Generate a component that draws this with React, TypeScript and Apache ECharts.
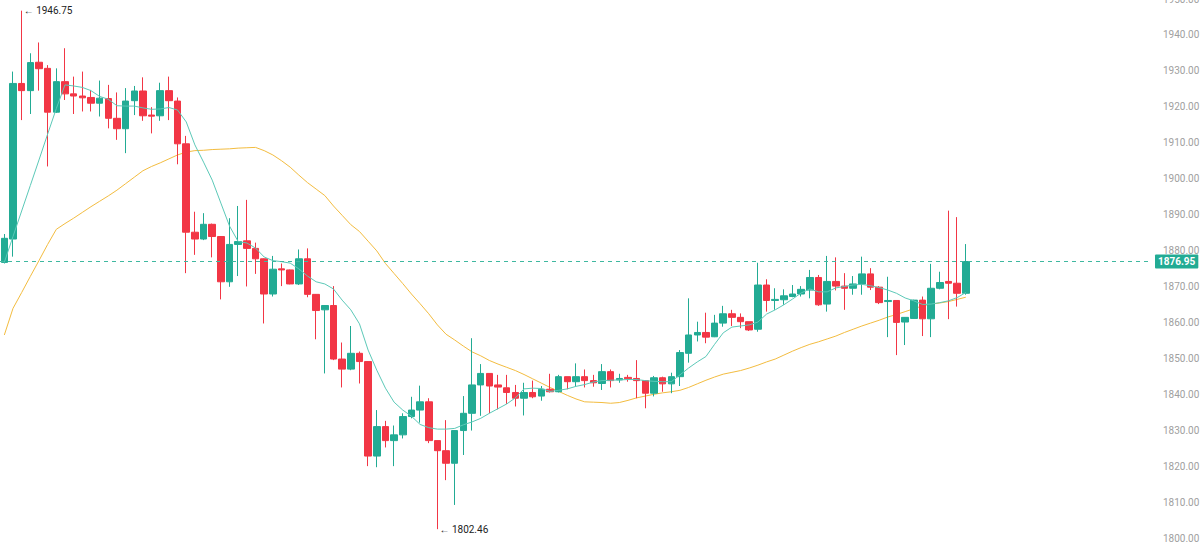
import React, { useEffect, useRef } from "react";
import * as echarts from "echarts";

// OHLC as [open, close, low, high]
const candles: number[][] = [
  [1876.7, 1883.4, 1876.4, 1884.6],
  [1883.2, 1926.5, 1878.3, 1929.8],
  [1926.5, 1924.5, 1916.3, 1946.75],
  [1924.5, 1932.3, 1918.0, 1934.9],
  [1932.4, 1930.6, 1924.5, 1937.9],
  [1930.7, 1918.5, 1903.4, 1931.6],
  [1918.5, 1927.0, 1918.3, 1930.7],
  [1927.0, 1923.6, 1921.9, 1936.3],
  [1923.6, 1923.0, 1918.0, 1928.4],
  [1923.0, 1922.5, 1918.7, 1929.8],
  [1922.6, 1921.0, 1918.7, 1924.7],
  [1921.0, 1922.4, 1917.3, 1927.3],
  [1922.3, 1916.8, 1914.0, 1926.1],
  [1916.8, 1913.9, 1910.8, 1924.0],
  [1913.9, 1921.6, 1907.1, 1925.2],
  [1921.7, 1924.4, 1917.7, 1925.8],
  [1924.4, 1917.5, 1916.1, 1928.2],
  [1917.7, 1917.4, 1912.6, 1919.9],
  [1917.5, 1924.5, 1916.1, 1926.7],
  [1924.5, 1921.7, 1916.3, 1928.4],
  [1921.6, 1909.7, 1904.0, 1922.6],
  [1909.7, 1885.1, 1873.7, 1911.9],
  [1885.1, 1883.2, 1878.8, 1890.8],
  [1883.2, 1887.3, 1882.9, 1890.4],
  [1887.3, 1883.9, 1878.1, 1887.5],
  [1883.9, 1871.3, 1866.4, 1884.0],
  [1871.3, 1881.7, 1869.9, 1889.0],
  [1881.7, 1882.5, 1872.9, 1892.4],
  [1882.7, 1880.6, 1870.0, 1894.1],
  [1880.6, 1877.7, 1873.5, 1882.2],
  [1877.7, 1867.9, 1859.7, 1877.8],
  [1867.9, 1874.8, 1867.2, 1878.5],
  [1874.9, 1874.6, 1870.1, 1876.4],
  [1874.6, 1870.7, 1870.6, 1874.7],
  [1870.7, 1877.7, 1870.4, 1880.3],
  [1877.7, 1867.8, 1867.0, 1880.6],
  [1867.8, 1863.3, 1855.3, 1867.9],
  [1863.5, 1864.7, 1845.8, 1864.8],
  [1864.7, 1849.8, 1849.5, 1870.1],
  [1849.8, 1847.0, 1841.9, 1854.4],
  [1847.0, 1851.4, 1846.7, 1859.0],
  [1851.4, 1849.1, 1843.0, 1851.9],
  [1849.1, 1822.8, 1820.0, 1849.2],
  [1822.8, 1831.0, 1819.7, 1835.6],
  [1831.0, 1827.1, 1825.2, 1832.6],
  [1827.1, 1828.7, 1820.0, 1831.3],
  [1828.7, 1833.8, 1827.7, 1834.7],
  [1833.8, 1835.6, 1833.3, 1839.3],
  [1835.6, 1837.9, 1832.1, 1842.4],
  [1837.9, 1827.1, 1826.4, 1838.9],
  [1827.1, 1824.3, 1802.46, 1827.1],
  [1824.3, 1820.8, 1816.1, 1832.8],
  [1820.8, 1829.9, 1809.2, 1830.0],
  [1829.9, 1834.7, 1823.1, 1839.5],
  [1834.7, 1842.6, 1829.9, 1855.6],
  [1842.6, 1845.8, 1834.0, 1848.4],
  [1845.8, 1842.3, 1834.7, 1845.8],
  [1842.6, 1842.0, 1835.8, 1845.4],
  [1841.8, 1840.5, 1837.3, 1845.4],
  [1840.5, 1838.9, 1836.6, 1842.6],
  [1838.9, 1840.5, 1834.1, 1843.2],
  [1840.5, 1839.3, 1838.9, 1843.8],
  [1839.5, 1841.4, 1838.2, 1842.3],
  [1841.4, 1840.7, 1840.5, 1845.7],
  [1840.7, 1844.9, 1840.5, 1845.4],
  [1844.9, 1843.5, 1841.4, 1844.9],
  [1843.5, 1844.9, 1842.1, 1848.6],
  [1844.9, 1843.8, 1841.9, 1846.9],
  [1843.8, 1843.2, 1842.1, 1845.4],
  [1843.0, 1846.3, 1841.2, 1848.4],
  [1846.3, 1843.8, 1841.9, 1846.9],
  [1844.0, 1844.4, 1843.2, 1845.7],
  [1844.7, 1844.3, 1843.5, 1845.4],
  [1844.4, 1843.8, 1838.9, 1849.5],
  [1843.8, 1840.3, 1836.1, 1843.8],
  [1840.3, 1844.6, 1839.4, 1845.1],
  [1844.6, 1842.9, 1840.7, 1844.9],
  [1842.9, 1844.9, 1840.3, 1846.0],
  [1844.9, 1851.6, 1842.3, 1852.3],
  [1851.4, 1856.5, 1848.8, 1866.7],
  [1856.5, 1857.2, 1854.7, 1860.2],
  [1857.2, 1855.9, 1854.2, 1862.7],
  [1856.0, 1859.8, 1855.9, 1862.1],
  [1859.8, 1862.4, 1858.8, 1864.6],
  [1862.4, 1861.4, 1859.0, 1863.5],
  [1861.4, 1860.2, 1858.4, 1862.5],
  [1860.2, 1857.9, 1857.6, 1860.2],
  [1858.1, 1870.4, 1857.4, 1876.6],
  [1870.4, 1866.1, 1863.0, 1872.0],
  [1866.1, 1866.4, 1863.5, 1869.5],
  [1866.3, 1867.4, 1864.9, 1869.2],
  [1867.2, 1867.9, 1867.0, 1870.4],
  [1867.9, 1869.2, 1867.2, 1870.1],
  [1869.0, 1872.5, 1866.7, 1874.6],
  [1872.5, 1864.9, 1864.6, 1873.2],
  [1865.1, 1871.4, 1863.0, 1878.5],
  [1871.4, 1870.1, 1868.9, 1878.1],
  [1870.1, 1869.5, 1863.5, 1873.7],
  [1869.5, 1870.7, 1867.7, 1872.9],
  [1870.7, 1873.5, 1867.7, 1878.3],
  [1873.5, 1869.8, 1869.0, 1875.1],
  [1869.8, 1865.5, 1865.1, 1870.1],
  [1865.8, 1866.1, 1855.9, 1872.7],
  [1866.1, 1860.0, 1850.9, 1866.1],
  [1860.1, 1861.4, 1853.7, 1861.5],
  [1861.1, 1866.2, 1861.0, 1866.3],
  [1866.2, 1861.0, 1856.2, 1867.2],
  [1861.0, 1869.5, 1855.9, 1876.3],
  [1869.5, 1871.1, 1869.2, 1874.1],
  [1871.4, 1870.9, 1860.9, 1891.1],
  [1870.9, 1868.1, 1864.4, 1889.3],
  [1868.1, 1876.95, 1867.7, 1881.8],
];

// Short moving average (teal)
const maFast: number[] = [
  1876.7, 1883.9, 1891.0, 1898.1, 1905.2, 1912.4, 1919.5, 1926.1, 1925.8, 1925.4,
  1924.5, 1922.9, 1922.1, 1920.3, 1920.2, 1920.2, 1919.7, 1919.3, 1919.4, 1919.8,
  1919.1, 1915.8, 1909.4, 1904.6, 1899.6, 1893.2, 1886.8, 1882.5, 1882.1, 1880.7,
  1878.2, 1877.2, 1876.9, 1876.5, 1874.9, 1872.9, 1871.3, 1870.7, 1869.3, 1866.2,
  1863.5, 1859.6, 1852.3, 1846.7, 1841.7, 1837.8, 1835.6, 1833.9, 1831.6, 1830.7,
  1830.3, 1830.3, 1830.5, 1831.5, 1832.3, 1833.3, 1834.7, 1836.0, 1837.3, 1839.0,
  1841.5, 1841.7, 1841.6, 1840.8, 1841.1, 1841.5, 1842.2, 1842.7, 1843.4, 1843.8,
  1843.9, 1844.0, 1844.1, 1844.1, 1843.8, 1843.6, 1843.5, 1843.5, 1845.4, 1847.3,
  1849.0, 1850.5, 1853.9, 1857.1, 1858.7, 1859.0, 1859.3, 1860.1, 1862.3, 1863.5,
  1864.9, 1866.5, 1868.2, 1869.3, 1868.5, 1868.5, 1869.6, 1870.0, 1870.4, 1870.6,
  1870.2, 1869.7, 1869.0, 1868.1, 1866.8, 1866.0, 1865.0, 1865.1, 1865.5, 1866.0,
  1866.9, 1868.3,
];

// Long moving average (orange)
const maSlow: number[] = [
  1856.5, 1863.9, 1868.3, 1872.8, 1877.2, 1881.7, 1885.9, 1887.5, 1889.0, 1890.6,
  1892.2, 1893.7, 1895.2, 1896.8, 1898.6, 1900.4, 1902.2, 1903.4, 1904.4, 1905.5,
  1906.6, 1907.4, 1907.8, 1907.9, 1908.1, 1908.2, 1908.3, 1908.5, 1908.6, 1908.7,
  1907.8, 1906.6, 1905.0, 1903.2, 1901.0, 1898.9, 1897.1, 1895.3, 1892.4, 1889.8,
  1887.2, 1885.3, 1882.6, 1879.9, 1876.4, 1873.6, 1870.8, 1867.9, 1865.2, 1862.4,
  1859.3, 1856.7, 1855.1, 1853.4, 1851.8, 1850.7, 1849.4, 1848.4, 1847.5, 1846.6,
  1845.5, 1844.3, 1843.1, 1841.9, 1840.8, 1839.7, 1838.7, 1837.9, 1837.8, 1837.7,
  1837.5, 1837.7, 1838.3, 1839.0, 1839.5, 1840.0, 1840.4, 1840.7, 1841.1, 1841.9,
  1842.9, 1843.9, 1844.8, 1845.6, 1846.1, 1846.6, 1847.3, 1848.1, 1849.0, 1849.8,
  1850.9, 1852.0, 1853.0, 1853.9, 1854.6, 1855.4, 1856.2, 1857.2, 1858.1, 1859.0,
  1859.8, 1860.6, 1861.5, 1862.2, 1863.0, 1863.8, 1864.6, 1865.1, 1865.4, 1865.8,
  1866.4, 1867.0,
];

const totalSlots = 133;
const categories: string[] = Array.from({ length: totalSlots }, (_, i) => String(i));

const yTicks: number[] = [1800, 1810, 1820, 1830, 1840, 1850, 1860, 1870, 1880, 1890, 1900, 1910, 1920, 1930, 1940, 1950];

const lastPrice = 1876.95;
const highMark = { index: 2, value: 1946.75 };
const lowMark = { index: 50, value: 1802.46 };

const UP = "#22ab94";
const DOWN = "#f23645";

export default function App() {
  const ref = useRef<HTMLDivElement>(null);
  useEffect(() => {
    if (!ref.current) return;
    const chart = echarts.init(ref.current, undefined, { renderer: "svg" });
    const markLabel = (txt: string) => ({
      show: true,
      position: "right",
      distance: 2,
      formatter: txt,
      color: "#222",
      fontSize: 10,
      fontFamily: "Roboto, sans-serif",
    });
    chart.setOption({
      animation: false,
      backgroundColor: "#ffffff",
      grid: { left: 0, right: 48, top: -1, bottom: 13, containLabel: false, outerBoundsMode: "none" },
      xAxis: {
        type: "category",
        data: categories,
        boundaryGap: true,
        axisLine: { show: false },
        axisTick: { show: false },
        axisLabel: { show: false },
        splitLine: { show: false },
      },
      yAxis: {
        type: "value",
        position: "right",
        min: yTicks[0],
        max: yTicks[yTicks.length - 1],
        interval: 10,
        axisLine: { show: false },
        axisTick: { show: false },
        splitLine: { show: false },
        axisLabel: {
          color: "#a0a0a0",
          fontSize: 10,
          fontFamily: "Roboto, sans-serif",
          margin: 11,
          formatter: (v: number) => v.toFixed(2),
        },
      },
      series: [
        {
          type: "line",
          data: maSlow,
          symbol: "none",
          lineStyle: { color: "#f3bc3f", width: 1 },
          z: 1,
        },
        {
          type: "line",
          data: maFast,
          symbol: "none",
          lineStyle: { color: "#5cc9b8", width: 1 },
          z: 3,
          markLine: {
            symbol: ["none", "none"],
            silent: true,
            lineStyle: { color: "#3fb8a0", type: [4, 4], width: 1, opacity: 1 },
            label: {
              show: true,
              position: "end",
              distance: 3,
              formatter: lastPrice.toFixed(2),
              backgroundColor: UP,
              color: "#ffffff",
              fontWeight: "bold",
              fontSize: 10,
              fontFamily: "Roboto, sans-serif",
              padding: [2, 3, 2, 3],
              borderRadius: 1,
            },
            data: [{ yAxis: lastPrice }],
          },
        },
        {
          type: "candlestick",
          data: candles,
          barWidth: 7,
          z: 2,
          itemStyle: {
            color: UP,
            color0: DOWN,
            borderColor: UP,
            borderColor0: DOWN,
            borderWidth: 1,
          },
          markPoint: {
            symbol: "circle",
            symbolSize: 0,
            data: [
              {
                coord: [String(highMark.index), highMark.value],
                label: markLabel("← " + highMark.value.toFixed(2)),
              },
              {
                coord: [String(lowMark.index), lowMark.value],
                label: markLabel("← " + lowMark.value.toFixed(2)),
              },
            ],
          },
        },
      ],
    });
    return () => chart.dispose();
  }, []);
  return (
    <div
      ref={ref}
      style={{ position: "fixed", left: 0, top: 0, width: 1200, height: 551, background: "#fff" }}
    />
  );
}
